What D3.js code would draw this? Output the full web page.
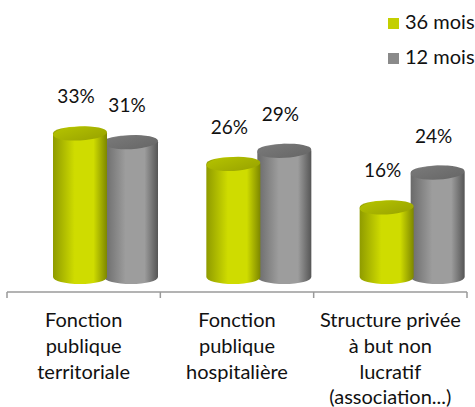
<!DOCTYPE html>
<html>
<head>
<meta charset="utf-8">
<script src="https://cdn.jsdelivr.net/npm/d3@7"></script>
<style>
  body { margin: 0; background: #fff; }
  text { font-family: Lato, "Open Sans", sans-serif; fill: #111; }
</style>
</head>
<body>
<svg id="chart" width="475" height="407"></svg>
<script>
const categories = [
    ['Fonction', 'publique', 'territoriale'],
    ['Fonction', 'publique', 'hospitalière'],
    ['Structure privée', 'à but non', 'lucratif', '(association...)']
];
const seriesNames = ['36 mois', '12 mois'];
const values36 = [33, 26, 16];
const values12 = [31, 29, 24];

const colors = {
    '36 mois': { edge: '#8f9b00', mid: '#cfdc00', dark: '#7d8700', top: '#a3af00', legend: '#c3cf00' },
    '12 mois': { edge: '#6a6a6a', mid: '#9d9d9d', dark: '#555555', top: '#6e6e6e', legend: '#8a8a8a' }
};

const svg = d3.select('#chart');
const cylW = 54;
const ry = 7;

const x0 = d3.scaleBand()
    .domain(d3.range(categories.length))
    .range([7, 467])
    .paddingInner(0);

const x1 = d3.scaleBand()
    .domain(seriesNames)
    .range([46, 148]);

const y = d3.scaleLinear()
    .domain([0, 35])
    .range([277, 124.75]);

// gradients for cylinder bodies and tops
const defs = svg.append('defs');
seriesNames.forEach((s, i) => {
    const c = colors[s];
    const g = defs.append('linearGradient').attr('id', 'body' + i)
        .attr('x1', '0%').attr('x2', '100%').attr('y1', '0%').attr('y2', '0%');
    g.append('stop').attr('offset', '0%').attr('stop-color', c.edge);
    g.append('stop').attr('offset', '40%').attr('stop-color', c.mid);
    g.append('stop').attr('offset', '75%').attr('stop-color', c.mid);
    g.append('stop').attr('offset', '100%').attr('stop-color', c.dark);
    const t = defs.append('linearGradient').attr('id', 'top' + i)
        .attr('x1', '0%').attr('x2', '100%').attr('y1', '0%').attr('y2', '100%');
    t.append('stop').attr('offset', '0%').attr('stop-color', d3.color(c.top).brighter(0.3));
    t.append('stop').attr('offset', '100%').attr('stop-color', d3.color(c.top).darker(0.2));
});

const rows = [];
values36.forEach((v, i) => rows.push({ cat: i, series: '36 mois', si: 0, value: v }));
values12.forEach((v, i) => rows.push({ cat: i, series: '12 mois', si: 1, value: v }));

// axis
const axisY = 292;
svg.append('line')
    .attr('x1', x0.range()[0]).attr('x2', x0.range()[1])
    .attr('y1', axisY).attr('y2', axisY)
    .attr('stroke', '#9a9a9a').attr('stroke-width', 1.5);
svg.selectAll('.tick').data(d3.range(categories.length + 1))
    .join('line')
    .attr('class', 'tick')
    .attr('x1', d => x0.range()[0] + d * x0.step())
    .attr('x2', d => x0.range()[0] + d * x0.step())
    .attr('y1', axisY).attr('y2', axisY + 6)
    .attr('stroke', '#9a9a9a').attr('stroke-width', 1.5);

function cylPath(cx, yTop, yBot) {
    const rx = cylW / 2;
    return 'M' + (cx - rx) + ',' + yTop +
        'L' + (cx - rx) + ',' + yBot +
        'A' + rx + ',' + ry + ' 0 0 0 ' + (cx + rx) + ',' + yBot +
        'L' + (cx + rx) + ',' + yTop +
        'A' + rx + ',' + ry + ' 0 0 0 ' + (cx - rx) + ',' + yTop + 'Z';
}

// draw 12 mois first so 36 mois sits in front
const ordered = rows.slice().sort((a, b) => b.si - a.si);
const cyl = svg.append('g').selectAll('g').data(ordered).join('g');
const cx = d => x0(d.cat) + x1(d.series) + cylW / 2;

cyl.append('path')
    .attr('d', d => cylPath(cx(d), y(d.value), y(0)))
    .attr('fill', d => 'url(#body' + d.si + ')');
cyl.append('ellipse')
    .attr('cx', cx)
    .attr('cy', d => y(d.value))
    .attr('rx', cylW / 2)
    .attr('ry', ry)
    .attr('transform', d => 'rotate(-3,' + cx(d) + ',' + y(d.value) + ')')
    .attr('fill', d => 'url(#top' + d.si + ')');

// value labels
svg.append('g').selectAll('text').data(rows)
    .join('text')
    .attr('x', d => cx(d) - 4)
    .attr('y', d => y(d.value) - 30)
    .attr('text-anchor', 'middle')
    .style('font-size', '19px')
    .text(d => d.value + '%');

// category labels
const catG = svg.append('g').selectAll('text').data(categories)
    .join('text')
    .attr('text-anchor', 'middle')
    .style('font-size', '20px');
catG.selectAll('tspan').data((d, i) => d.map(line => ({ line, i })))
    .join('tspan')
    .attr('x', d => x0(d.i) + x0.bandwidth() / 2)
    .attr('y', (d, j) => 327 + j * 25.8)
    .text(d => d.line);

// legend
const leg = svg.append('g').selectAll('g').data(seriesNames)
    .join('g')
    .attr('transform', (d, i) => 'translate(388,' + (18 + i * 35) + ')');
leg.append('rect')
    .attr('width', 11).attr('height', 11)
    .attr('fill', d => colors[d].legend);
leg.append('text')
    .attr('x', 17).attr('y', 11)
    .style('font-size', '20px')
    .text(d => d);
</script>
</body>
</html>
